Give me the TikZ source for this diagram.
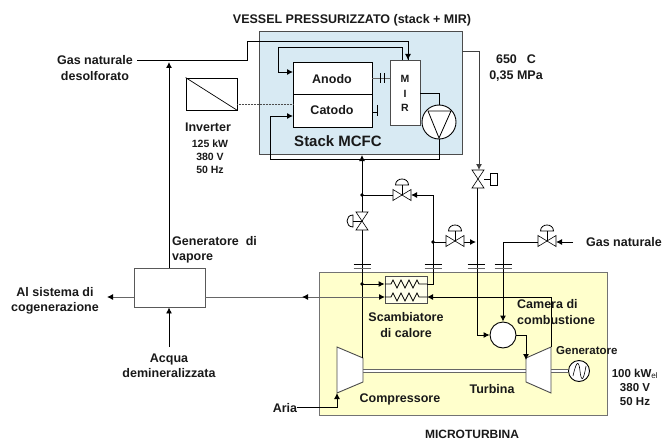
\documentclass[tikz,border=0pt]{standalone}
\usepackage{fontspec}
\setmainfont{Liberation Sans}
\usetikzlibrary{arrows.meta}
\definecolor{vesselblue}{HTML}{D8EAF3}
\definecolor{turbyellow}{HTML}{FFFFCC}
\tikzset{
  lbl/.style={font=\bfseries\fontsize{12.5}{15.5}\selectfont,inner sep=0pt,align=center,text=black!90},
  small/.style={font=\bfseries\fontsize{10.5}{13}\selectfont,inner sep=0pt,align=center,text=black!90},
  blk/.style={draw,line width=0.9pt,inner sep=0pt,fill=white},
  pipe/.style={line width=0.9pt},
  arr/.style={pipe,-{Latex[length=6pt,width=6pt]}},
  grayarr/.style={pipe,draw=black!60,-{Latex[length=6pt,width=6pt,black]}},
  pics/hvalve/.style={code={
    \draw[line width=0.6pt,fill=white] (-9,-5.5)--(9,5.5)--(9,-5.5)--(-9,5.5)--cycle;
    \draw[line width=0.6pt] (0,0)--(0,-10);
    \draw[line width=0.8pt,fill=white] (-6.5,-10) .. controls (-6.5,-18) and (6.5,-18) .. (6.5,-10) -- cycle;
  }},
  pics/vvalve/.style={code={
    \draw[line width=0.6pt,fill=white] (-6,-9)--(6,-9)--(-6,9)--(6,9)--cycle;
  }},
  pics/flange/.style={code={
    \draw[line width=0.7pt] (-8.5,-2)--(8.5,-2);
    \draw[line width=0.7pt,draw=black!60] (-8.5,2)--(8.5,2);
  }},
  pics/zigzag/.style={code={
    \draw[line width=0.8pt] (-21,0)--(-15,0)--(-13,-4)--(-9,4)--(-5,-4)--(-1,4)--(3,-4)--(7,4)--(11,-4)--(13,0)--(21,0);
  }},
}
\begin{document}
\begin{tikzpicture}[x=1pt,y=-1pt]
\useasboundingbox (0,0) rectangle (663,441);
% vessel and microturbine frames
\node[draw=black!70,line width=0.9pt,fill=vesselblue,minimum width=203pt,minimum height=123pt,inner sep=0pt] (vessel) at (360.5,92.5) {};
\node[draw=black!55,line width=1pt,fill=turbyellow,minimum width=288pt,minimum height=143pt,inner sep=0pt] (turbobox) at (463,343.5) {};
% stack
\node[blk,minimum width=79pt,minimum height=32pt] (anodo) at (332.5,78) {};
\node[blk,minimum width=79pt,minimum height=33pt] (catodo) at (332.5,110.5) {};
\node[lbl] (anodotxt) at (332,79) {Anodo};
\node[lbl] (catodotxt) at (332,110) {Catodo};
\node[blk,draw=black!70,minimum width=30pt,minimum height=65pt] (mir) at (405,92.5) {};
\node[small] (mirm) at (405,79) {M};
\node[small] (miri) at (405,94) {I};
\node[small] (mirr) at (405,108) {R};
\node[blk,circle,minimum size=34pt] (pump) at (439,122) {};
\draw[line width=0.8pt] (428,111)--(451,111)--(439,138)--cycle;
% inverter
\node[blk,minimum width=51pt,minimum height=32pt] (inverter) at (211.5,94) {};
\draw[line width=0.7pt] (inverter.north west)--(inverter.south east);
\draw[densely dotted,line width=0.5pt,draw=black!70] (237,104)--(293,104);
% other blocks
\node[blk,draw=black!65,minimum width=71pt,minimum height=39pt] (gensteam) at (169.5,287.5) {};
\node[draw=black!70,line width=0.9pt,fill=turbyellow!40,minimum width=42pt,minimum height=27pt,inner sep=0pt] (exch) at (406,289.5) {};
\node[blk,circle,minimum size=26pt] (camera) at (503,335) {};
\node[blk,circle,minimum size=21pt] (genel) at (579,371) {};
\draw[line width=0.6pt] (573,376) .. controls (577,358) and (579,362) .. (580,371) .. controls (581,380) and (583,384) .. (586,366);
\coordinate (compa) at (337,347); \coordinate (compb) at (363,358); \coordinate (compc) at (363,382); \coordinate (compd) at (337,393);
\coordinate (turba) at (526,358); \coordinate (turbb) at (551,347); \coordinate (turbc) at (551,393); \coordinate (turbd) at (526,382);
% shafts
\draw[line width=0.9pt,draw=black!60,double=white,double distance=2.5pt] (363,371)--(526,371);
\draw[line width=0.9pt,draw=black!60,double=white,double distance=2.5pt] (551,371)--(genel.west);
\draw[line width=0.9pt,draw=black!70,fill=white] (compa)--(compb)--(compc)--(compd)--cycle;
\draw[line width=0.9pt,draw=black!70,fill=white] (turba)--(turbb)--(turbc)--(turbd)--cycle;
% natural gas into MIR and anode loop
\coordinate (gasdes) at (137,60);
\coordinate (gasup) at (247,60);
\coordinate (gastop) at (247,41);
\coordinate (mirin) at (408,60);
\draw[pipe] (gasdes)--(gasup)--(gastop)-|(mirin);
\draw[arr] (408,50)--(mirin);
\coordinate (loopa) at (402,60);
\coordinate (loopb) at (278,47);
\coordinate (anodoin) at (293,72);
\draw[arr] (loopa)|-(loopb)|-(anodoin);
% anode and cathode stubs
\draw[pipe,draw=black!60] (372,78)--(390,78);
\draw[pipe] (380,73)--(380,83) (384,73)--(384,83);
\draw[pipe] (372,112)--(377,112) (377,105)--(377,116);
% pump and cathode
\coordinate (catin) at (293,116);
\coordinate (cata) at (270,159);
\draw[pipe] (mir.east|-0,93)-|(pump.north);
\draw[arr] (pump.south)|-(cata)|-(catin);
% recuperator line up to vessel
\coordinate (vesselin) at (362,155);
\coordinate (juncta) at (362,195);
\coordinate (compin) at (362,358);
\draw[arr] (compin)--(vesselin);
% exhaust of vessel to camera
\coordinate (vesselout) at (462,51);
\coordinate (valvetop) at (479,170);
\draw[arr,draw=black!75] (vesselout)-|(valvetop);
\coordinate (camleft) at (477,335);
\draw[pipe] (477,187)--(camleft);
\draw[arr] (camleft)--(camera.west);
\pic at (478,179) {vvalve};
\node[draw,line width=0.8pt,fill=white,minimum width=7pt,minimum height=12pt,inner sep=0pt] (actuator) at (493.5,179) {};
\draw[pipe] (484,179)--(actuator.west);
% valve on recuperator line
\pic at (362,221) {vvalve};
\draw[line width=0.6pt] (362,221)--(353,221);
\draw[line width=0.8pt,fill=white] (353,215) .. controls (345,215) and (345,227) .. (353,227) -- cycle;
% by-pass valves
\coordinate (bypass) at (433,195);
\coordinate (exchup) at (433,284);
\coordinate (junctb) at (433,242);
\coordinate (mixpt) at (476,242);
\draw[pipe] (juncta)--(393,195);
\draw[pipe] (exch.east|-exchup)-|(bypass);
\draw[arr] (bypass)--(411,195);
\pic at (402,195) {hvalve};
\draw[pipe] (junctb)--(446,242);
\draw[arr] (464,242)--(mixpt);
\pic at (455,241) {hvalve};
\fill (juncta) circle (1.8pt) (junctb) circle (1.8pt);
% natural gas to camera
\coordinate (gasnat) at (573,242);
\coordinate (gasbend) at (503,242);
\draw[arr] (gasnat)--(556,242);
\draw[pipe] (538,242)--(gasbend);
\draw[arr] (gasbend)--(camera.north);
\pic at (547,241) {hvalve};
% flanges
\foreach \fx in {362,433,476,503} {\pic at (\fx,266) {flange};}
% exchanger
\coordinate (exchpt) at (362,284);
\draw[arr] (exchpt)--(exch.west|-exchpt);
\fill (exchpt) circle (1.8pt);
\pic at (406,284) {zigzag};
\pic at (406,297) {zigzag};
% turbine exhaust to exchanger and steam generator
\coordinate (turbout) at (551,347);
\coordinate (exchout) at (427,297);
\draw[arr] (turbout)|-(exchout);
\coordinate (exchin) at (385,297);
\draw[grayarr] (gensteam.east|-exchin)--(exchin);
\draw[grayarr] (345,297)--(302,297);
% camera to turbine
\coordinate (turbin) at (526,360);
\draw[arr] (camera.east)-|(turbin);
% air
\coordinate (ariapt) at (297,407);
\coordinate (compair) at (337,393);
\draw[arr] (ariapt)-|(compair);
% steam generator
\coordinate (alsist) at (107,297);
\coordinate (acquain) at (169,347);
\coordinate (gensup) at (169,62);
\draw[grayarr] (gensteam.west|-alsist)--(alsist);
\draw[arr] (acquain)--(gensteam.south-|acquain);
\draw[arr] (gensteam.north-|gensup)--(gensup);
% labels
\node[lbl] (vesseltxt) at (352,20) {VESSEL PRESSURIZZATO (stack + MIR)};
\node[lbl] (gasdestxt) at (95,68) {Gas naturale\\desolforato};
\node[lbl] (invtxt) at (208,127) {Inverter};
\node[small] (invdata) at (210,157) {125 kW\\380 V\\50 Hz};
\node[lbl,font=\bfseries\fontsize{15}{17}\selectfont] (stacktxt) at (338,141) {Stack MCFC};
\node[lbl] (temptxt) at (516,68) {650\hspace{0.8em}C\\0,35 MPa};
\node[lbl,align=left,anchor=west] (gentxt) at (172,250) {Generatore\ \ di\\vapore};
\node[lbl] (gasnattxt) at (624,242) {Gas naturale};
\node[lbl] (alsisttxt) at (55,301) {Al sistema di\\cogenerazione};
\node[lbl] (acquatxt) at (169,366) {Acqua\\demineralizzata};
\node[lbl] (ariatxt) at (285,408) {Aria};
\node[lbl] (scambtxt) at (406,325) {Scambiatore\\di calore};
\node[lbl,align=left,anchor=west] (cameratxt) at (517,312) {Camera di\\combustione};
\node[lbl,anchor=west,font=\bfseries\fontsize{11.5}{13}\selectfont] (gentxtb) at (556,351) {Generatore};
\node[lbl] (turbtxt) at (492,389) {Turbina};
\node[lbl] (comptxt) at (400,399) {Compressore};
\node[small,font=\bfseries\fontsize{11.5}{14}\selectfont] (kwtxt) at (635,387) {100 kW$_{\mathrm{el}}$\\380 V\\50 Hz};
\node[small,font=\bfseries\fontsize{12}{14}\selectfont] (microtxt) at (472,434.5) {MICROTURBINA};
\end{tikzpicture}
\end{document}
